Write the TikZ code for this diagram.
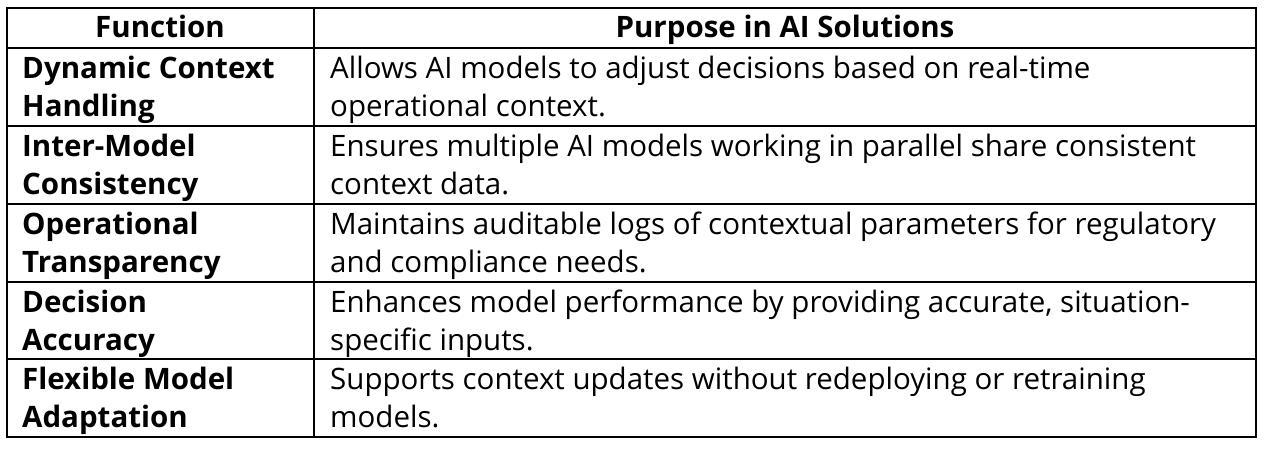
\documentclass[tikz,border=0pt]{standalone}
\usepackage{fontspec}
\setmainfont{Open Sans}
\begin{document}
\begin{tikzpicture}[x=1pt,y=-1pt,
  grid/.style={line width=2pt,black},
  cell/.style={anchor=base west,inner sep=0pt,font=\fontsize{29.5}{38}\selectfont},
  fcell/.style={cell,font=\fontsize{29.5}{38}\selectfont\bfseries},
  head/.style={anchor=base,inner sep=0pt,font=\fontsize{29.5}{38}\selectfont\bfseries}]
\useasboundingbox (0,0) rectangle (1268,458);
\draw[grid] (7,8) rectangle (1256,437);
\draw[grid] (314,8) -- (314,437);
\foreach \y in {48,126,204,282,359} \draw[grid] (7,\y) -- (1256,\y);
\node[head] (h1) at (160,37) {Function};
\node[head] (h2) at (785,37) {Purpose in AI Solutions};
% row 1
\node[fcell] (f1a) at (22,78) {Dynamic Context};
\node[fcell] (f1b) at (22,116) {Handling};
\node[cell] (p1a) at (330,78) {Allows AI models to adjust decisions based on real-time};
\node[cell] (p1b) at (330,116) {operational context.};
% row 2
\node[fcell] (f2a) at (22,156) {Inter-Model};
\node[fcell] (f2b) at (22,194) {Consistency};
\node[cell] (p2a) at (330,156) {Ensures multiple AI models working in parallel share consistent};
\node[cell] (p2b) at (330,194) {context data.};
% row 3
\node[fcell] (f3a) at (22,234) {Operational};
\node[fcell] (f3b) at (22,272) {Transparency};
\node[cell] (p3a) at (330,234) {Maintains auditable logs of contextual parameters for regulatory};
\node[cell] (p3b) at (330,272) {and compliance needs.};
% row 4
\node[fcell] (f4a) at (22,312) {Decision};
\node[fcell] (f4b) at (22,350) {Accuracy};
\node[cell] (p4a) at (330,312) {Enhances model performance by providing accurate, situation-};
\node[cell] (p4b) at (330,350) {specific inputs.};
% row 5
\node[fcell] (f5a) at (22,389) {Flexible Model};
\node[fcell] (f5b) at (22,427) {Adaptation};
\node[cell] (p5a) at (330,389) {Supports context updates without redeploying or retraining};
\node[cell] (p5b) at (330,427) {models.};
\end{tikzpicture}
\end{document}
